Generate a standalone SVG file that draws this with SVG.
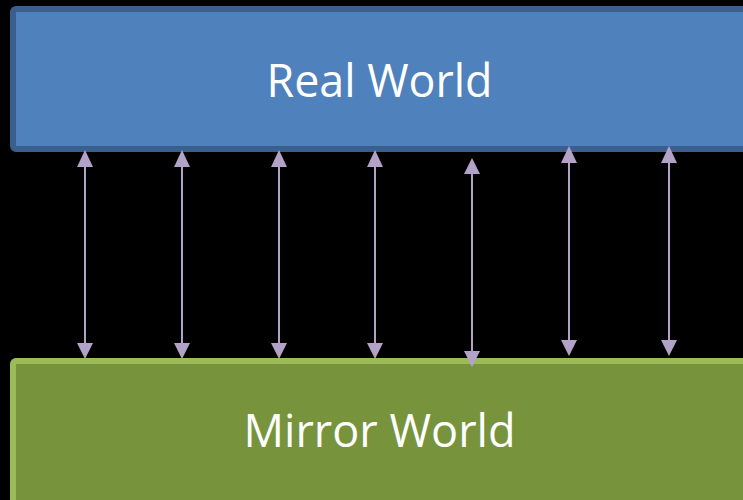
<svg xmlns="http://www.w3.org/2000/svg" width="743" height="500" viewBox="0 0 743 500">
<style>
.lbl{font-family:"Open Sans","Liberation Sans",sans-serif;font-size:46px;fill:#ffffff;text-anchor:middle}
.ln{stroke:#b3a2c7;stroke-width:2;fill:none}
.hd{fill:#b3a2c7}
</style>
<rect width="743" height="500" fill="#000000"/>
<g id="real-world">
<rect x="13" y="9" width="760" height="140" rx="3" fill="#4f81bd" stroke="#3a5f8e" stroke-width="6"/>
<text class="lbl" x="379.5" y="97" textLength="226" lengthAdjust="spacingAndGlyphs">Real World</text>
</g>
<g id="mirror-world">
<rect x="13" y="361" width="760" height="160" rx="3" fill="#77933c" stroke="#9bbb59" stroke-width="6"/>
<text class="lbl" x="379.5" y="447" textLength="272" lengthAdjust="spacingAndGlyphs">Mirror World</text>
</g>
<g id="connectors">
<line class="ln" x1="85" y1="165" x2="85" y2="345"/>
<polygon class="hd" points="85,150 77,167 93,167"/>
<polygon class="hd" points="85,359 77,343 93,343"/>
<line class="ln" x1="182" y1="165" x2="182" y2="345"/>
<polygon class="hd" points="182,150 174,167 190,167"/>
<polygon class="hd" points="182,359 174,343 190,343"/>
<line class="ln" x1="279" y1="165" x2="279" y2="345"/>
<polygon class="hd" points="279,150 271,167 287,167"/>
<polygon class="hd" points="279,359 271,343 287,343"/>
<line class="ln" x1="375" y1="165" x2="375" y2="345"/>
<polygon class="hd" points="375,150 367,167 383,167"/>
<polygon class="hd" points="375,359 367,343 383,343"/>
<line class="ln" x1="472" y1="172" x2="472" y2="353"/>
<polygon class="hd" points="472,158 464,174 480,174"/>
<polygon class="hd" points="472,367 464,351 480,351"/>
<line class="ln" x1="569" y1="161" x2="569" y2="342"/>
<polygon class="hd" points="569,146 561,163 577,163"/>
<polygon class="hd" points="569,356 561,340 577,340"/>
<line class="ln" x1="669" y1="161" x2="669" y2="342"/>
<polygon class="hd" points="669,146 661,163 677,163"/>
<polygon class="hd" points="669,356 661,340 677,340"/>
</g>
</svg>
